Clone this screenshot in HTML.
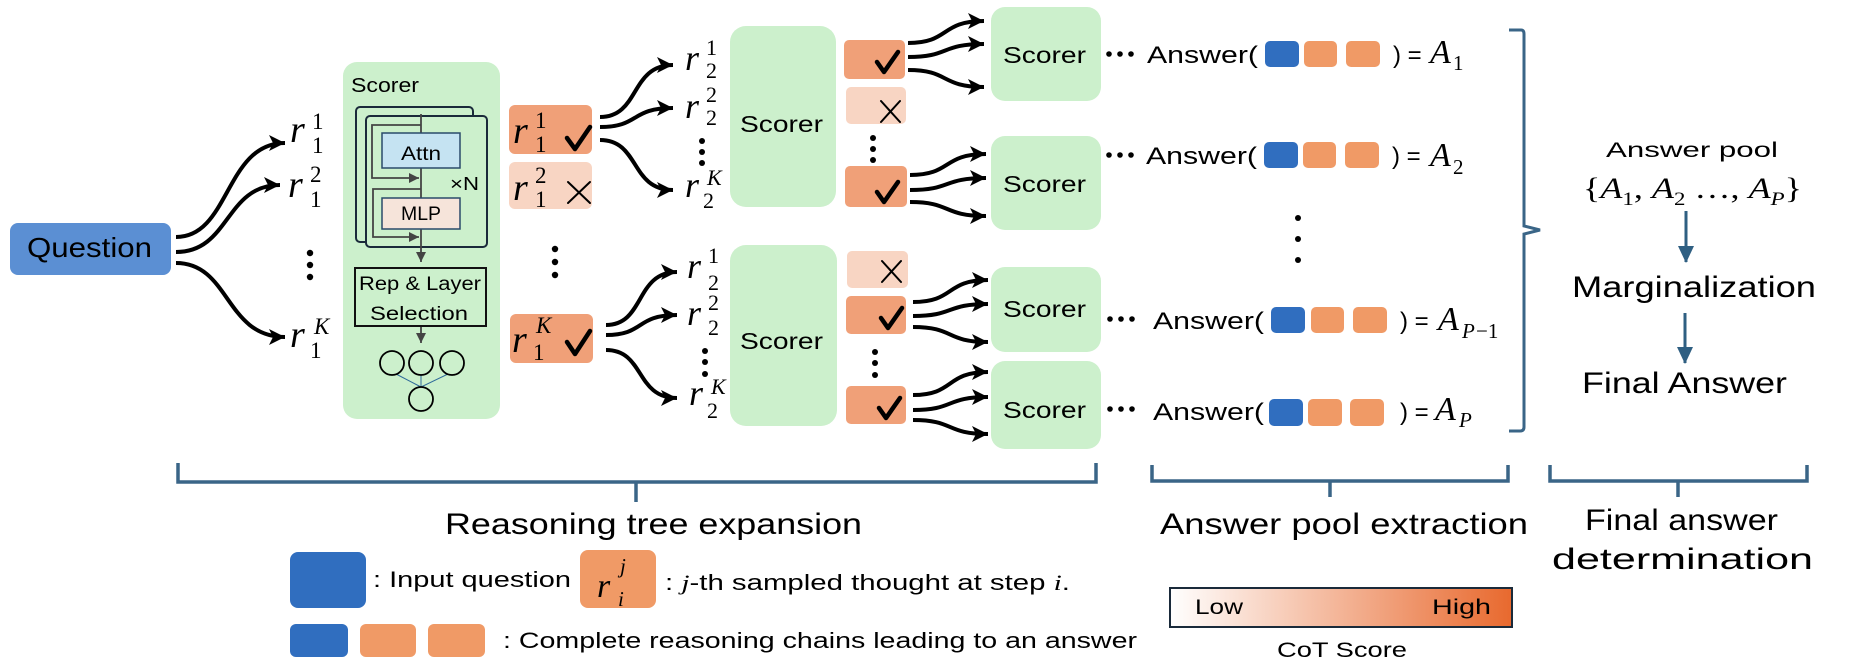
<!DOCTYPE html>
<html><head><meta charset="utf-8"><style>
html,body{margin:0;padding:0;background:#fff;}
svg{display:block;}
.s{font-family:"Liberation Sans",sans-serif;fill:#000;}
.m{font-family:"Liberation Serif",serif;font-style:italic;fill:#000;}
.d{font-family:"Liberation Serif",serif;fill:#000;}
</style></head><body>
<svg width="1858" height="670" viewBox="0 0 1858 670" xmlns="http://www.w3.org/2000/svg">
<defs>
<marker id="ah" markerUnits="userSpaceOnUse" markerWidth="18" markerHeight="18" refX="16" refY="8" orient="auto"><path d="M0,0 L16,8 L0,16 L4,8 z" fill="#000"/></marker>
<marker id="gh" markerUnits="userSpaceOnUse" markerWidth="12" markerHeight="12" refX="10" refY="5" orient="auto"><path d="M0,0 L10,5 L0,10 z" fill="#444"/></marker>
<marker id="bh" markerUnits="userSpaceOnUse" markerWidth="18" markerHeight="18" refX="8" refY="16" orient="0"><path d="M0,0 L16,0 L8,17 z" fill="#2f5f82"/></marker>
<linearGradient id="cg" x1="0" x2="1" y1="0" y2="0"><stop offset="0" stop-color="#ffffff"/><stop offset="1" stop-color="#e8692e"/></linearGradient>
</defs>

<!-- Question -->
<rect x="10" y="223" width="161" height="52" rx="8" fill="#5b8fd3"/>
<text class="s" x="27" y="257" font-size="28" textLength="125" lengthAdjust="spacingAndGlyphs">Question</text>

<g fill="none" stroke="#000" stroke-width="4" marker-end="url(#ah)">
<path d="M176 237 C230 237,225 143,285 143"/>
<path d="M176 252 C230 252,225 185,280 185"/>
<path d="M176 263 C230 263,225 337,285 337"/>
<path d="M600 117 C640 117,630 65,673 65"/>
<path d="M600 127 C640 127,630 108,673 108"/>
<path d="M600 140 C640 140,630 190,673 190"/>
<path d="M606 325 C645 325,635 272,677 272"/>
<path d="M606 335 C645 335,635 315,677 315"/>
<path d="M606 350 C645 350,635 398,677 398"/>
<path d="M908 43 C950 43,940 21,984 21"/>
<path d="M908 57 C950 57,940 44,984 44"/>
<path d="M908 70 C950 70,940 87,984 87"/>
<path d="M910 175 C952 175,942 154,986 154"/>
<path d="M910 190 C952 190,942 178,986 178"/>
<path d="M910 202 C952 202,942 216,986 216"/>
<path d="M913 302 C955 302,945 280,988 280"/>
<path d="M913 316 C955 316,945 304,988 304"/>
<path d="M913 327 C955 327,945 342,988 342"/>
<path d="M913 395 C955 395,945 372,988 372"/>
<path d="M913 410 C955 410,945 397,988 397"/>
<path d="M913 420 C955 420,945 434,988 434"/>
</g>

<!-- r1 labels -->
<g>
<text class="m" x="290" y="142" font-size="38">r</text><text class="d" x="312" y="129" font-size="23">1</text><text class="d" x="312" y="153" font-size="23">1</text>
<text class="m" x="288" y="197" font-size="38">r</text><text class="d" x="310" y="182" font-size="23">2</text><text class="d" x="310" y="207" font-size="23">1</text>
<text class="m" x="290" y="347" font-size="38">r</text><text class="m" x="314" y="334" font-size="23">K</text><text class="d" x="310" y="358" font-size="23">1</text>
</g>
<g fill="#000">
<circle cx="310" cy="253" r="3.2"/><circle cx="310" cy="265" r="3.2"/><circle cx="310" cy="277" r="3.2"/>
<circle cx="555" cy="249" r="3.2"/><circle cx="555" cy="262" r="3.2"/><circle cx="555" cy="275" r="3.2"/>
<circle cx="702" cy="141" r="3"/><circle cx="702" cy="152" r="3"/><circle cx="702" cy="163" r="3"/>
<circle cx="705" cy="351" r="3"/><circle cx="705" cy="362" r="3"/><circle cx="705" cy="374" r="3"/>
<circle cx="873" cy="138" r="3"/><circle cx="873" cy="149" r="3"/><circle cx="873" cy="160" r="3"/>
<circle cx="875" cy="352" r="3"/><circle cx="875" cy="363" r="3"/><circle cx="875" cy="375" r="3"/>
<circle cx="1298" cy="218" r="3"/><circle cx="1298" cy="239" r="3"/><circle cx="1298" cy="260" r="3"/>
</g>

<!-- Scorer panel -->
<rect x="343" y="62" width="157" height="357" rx="14" fill="#ccf0cc"/>
<text class="s" x="351" y="92" font-size="20" textLength="68" lengthAdjust="spacingAndGlyphs">Scorer</text>
<rect x="356" y="107" width="117" height="135" rx="4" fill="#ccf0cc" stroke="#1a2a3a" stroke-width="2"/>
<rect x="366" y="116" width="121" height="131" rx="4" fill="#ccf0cc" stroke="#1a2a3a" stroke-width="2"/>
<line x1="421" y1="114" x2="421" y2="262" stroke="#444" stroke-width="1.8" marker-end="url(#gh)"/>
<rect x="382" y="133" width="78" height="35" fill="#c5e3f2" stroke="#2a4a6a" stroke-width="1.5"/>
<text class="s" x="401" y="160" font-size="19" textLength="40" lengthAdjust="spacingAndGlyphs">Attn</text>
<rect x="382" y="198" width="78" height="31" fill="#f6e4da" stroke="#2a4a6a" stroke-width="1.5"/>
<text class="s" x="401" y="220" font-size="19" textLength="40" lengthAdjust="spacingAndGlyphs">MLP</text>
<path d="M421 125 H372 V178 H419" fill="none" stroke="#444" stroke-width="1.8" marker-end="url(#gh)"/>
<path d="M421 189 H373 V237 H419" fill="none" stroke="#444" stroke-width="1.8" marker-end="url(#gh)"/>
<text class="s" x="450" y="190" font-size="18" textLength="29" lengthAdjust="spacingAndGlyphs">×N</text>
<rect x="355" y="268" width="131" height="58" fill="none" stroke="#111" stroke-width="2"/>
<text class="s" x="359" y="290" font-size="19" textLength="122" lengthAdjust="spacingAndGlyphs">Rep &amp; Layer</text>
<text class="s" x="370" y="320" font-size="19" textLength="98" lengthAdjust="spacingAndGlyphs">Selection</text>
<line x1="421" y1="327" x2="421" y2="343" stroke="#444" stroke-width="1.8" marker-end="url(#gh)"/>
<g stroke="#2f6a9a" stroke-width="1"><line x1="396" y1="374" x2="421" y2="387"/><line x1="421" y1="375" x2="421" y2="387"/><line x1="448" y1="374" x2="421" y2="387"/></g>
<g fill="none" stroke="#000" stroke-width="1.8">
<ellipse cx="392" cy="363" rx="12" ry="12"/><ellipse cx="421" cy="363" rx="12" ry="12"/><ellipse cx="452" cy="363" rx="12" ry="12"/><ellipse cx="421" cy="399" rx="12" ry="12"/>
</g>

<!-- r1 boxes -->
<rect x="509" y="105" width="83" height="49" rx="6" fill="#f0a078"/>
<text class="m" x="513" y="143" font-size="38">r</text><text class="d" x="535" y="128" font-size="23">1</text><text class="d" x="535" y="152" font-size="23">1</text>
<rect x="509" y="162" width="83" height="47" rx="6" fill="#f8d5c3"/>
<text class="m" x="513" y="200" font-size="38">r</text><text class="d" x="535" y="183" font-size="23">2</text><text class="d" x="535" y="207" font-size="23">1</text>
<rect x="510" y="314" width="83" height="49" rx="6" fill="#f0a078"/>
<text class="m" x="512" y="352" font-size="38">r</text><text class="m" x="536" y="333" font-size="23">K</text><text class="d" x="533" y="360" font-size="23">1</text>
<g fill="none" stroke="#000" stroke-linecap="round" stroke-linejoin="round">
<path d="M567 138 L575 149 L590 127" stroke-width="4.5"/>
<path d="M567 342 L575 354 L590 331" stroke-width="4.5"/>
<path d="M568 182 L590 203 M590 182 L568 203" stroke-width="2"/>
</g>

<!-- r2 labels -->
<text class="m" x="685" y="70" font-size="36">r</text><text class="d" x="706" y="55" font-size="22">1</text><text class="d" x="706" y="78" font-size="22">2</text>
<text class="m" x="685" y="118" font-size="36">r</text><text class="d" x="706" y="102" font-size="22">2</text><text class="d" x="706" y="125" font-size="22">2</text>
<text class="m" x="685" y="197" font-size="36">r</text><text class="m" x="707" y="185" font-size="22">K</text><text class="d" x="703" y="208" font-size="22">2</text>
<text class="m" x="687" y="278" font-size="36">r</text><text class="d" x="708" y="263" font-size="22">1</text><text class="d" x="708" y="290" font-size="22">2</text>
<text class="m" x="687" y="325" font-size="36">r</text><text class="d" x="708" y="310" font-size="22">2</text><text class="d" x="708" y="335" font-size="22">2</text>
<text class="m" x="689" y="405" font-size="36">r</text><text class="m" x="711" y="394" font-size="22">K</text><text class="d" x="707" y="418" font-size="22">2</text>

<!-- big scorers -->
<rect x="730" y="26" width="106" height="181" rx="16" fill="#ccf0cc"/>
<text class="s" x="740" y="132" font-size="23" textLength="83" lengthAdjust="spacingAndGlyphs">Scorer</text>
<rect x="730" y="245" width="107" height="181" rx="16" fill="#ccf0cc"/>
<text class="s" x="740" y="349" font-size="23" textLength="83" lengthAdjust="spacingAndGlyphs">Scorer</text>

<!-- second-level boxes -->
<rect x="844" y="40" width="61" height="39" rx="5" fill="#f0a078"/>
<rect x="846" y="87" width="60" height="37" rx="5" fill="#f8d5c3"/>
<rect x="845" y="166" width="62" height="41" rx="5" fill="#f0a078"/>
<rect x="847" y="251" width="61" height="37" rx="5" fill="#f8d5c3"/>
<rect x="846" y="296" width="60" height="38" rx="5" fill="#f0a078"/>
<rect x="846" y="386" width="60" height="38" rx="5" fill="#f0a078"/>
<g fill="none" stroke="#000" stroke-linecap="round" stroke-linejoin="round">
<path d="M877 62 L884 72 L898 52" stroke-width="4.5"/>
<path d="M877 192 L884 202 L898 182" stroke-width="4.5"/>
<path d="M881 318 L888 328 L902 308" stroke-width="4.5"/>
<path d="M879 408 L886 418 L900 398" stroke-width="4.5"/>
<path d="M881 101 L900 122 M900 101 L881 122" stroke-width="2"/>
<path d="M882 261 L901 282 M901 261 L882 282" stroke-width="2"/>
</g>

<!-- small scorers -->
<rect x="991" y="7" width="110" height="94" rx="14" fill="#ccf0cc"/>
<text class="s" x="1003" y="63" font-size="23" textLength="83" lengthAdjust="spacingAndGlyphs">Scorer</text>
<rect x="991" y="136" width="110" height="94" rx="14" fill="#ccf0cc"/>
<text class="s" x="1003" y="192" font-size="23" textLength="83" lengthAdjust="spacingAndGlyphs">Scorer</text>
<rect x="991" y="267" width="110" height="85" rx="14" fill="#ccf0cc"/>
<text class="s" x="1003" y="317" font-size="23" textLength="83" lengthAdjust="spacingAndGlyphs">Scorer</text>
<rect x="991" y="361" width="110" height="88" rx="14" fill="#ccf0cc"/>
<text class="s" x="1003" y="418" font-size="23" textLength="83" lengthAdjust="spacingAndGlyphs">Scorer</text>

<!-- answers -->
<g fill="#000">
<circle cx="1109" cy="54" r="2.8"/><circle cx="1120" cy="54" r="2.8"/><circle cx="1131" cy="54" r="2.8"/>
<circle cx="1109" cy="155" r="2.8"/><circle cx="1120" cy="155" r="2.8"/><circle cx="1131" cy="155" r="2.8"/>
<circle cx="1110" cy="319" r="2.8"/><circle cx="1121" cy="319" r="2.8"/><circle cx="1132" cy="319" r="2.8"/>
<circle cx="1110" cy="409" r="2.8"/><circle cx="1121" cy="409" r="2.8"/><circle cx="1132" cy="409" r="2.8"/>
</g>
<g>
<text class="s" x="1147" y="63" font-size="24" textLength="111" lengthAdjust="spacingAndGlyphs">Answer(</text>
<rect x="1265" y="41" width="34" height="26" rx="5" fill="#306ebf"/><rect x="1304" y="41" width="33" height="26" rx="5" fill="#f09a66"/><rect x="1346" y="41" width="34" height="26" rx="5" fill="#f09a66"/>
<text class="s" x="1393" y="63" font-size="24">) =</text>
<text class="m" x="1430" y="63" font-size="34">A</text><text class="d" x="1453" y="70" font-size="21">1</text>

<text class="s" x="1146" y="164" font-size="24" textLength="111" lengthAdjust="spacingAndGlyphs">Answer(</text>
<rect x="1264" y="142" width="34" height="26" rx="5" fill="#306ebf"/><rect x="1303" y="142" width="33" height="26" rx="5" fill="#f09a66"/><rect x="1345" y="142" width="34" height="26" rx="5" fill="#f09a66"/>
<text class="s" x="1392" y="164" font-size="24">) =</text>
<text class="m" x="1430" y="166" font-size="34">A</text><text class="d" x="1453" y="174" font-size="21">2</text>

<text class="s" x="1153" y="329" font-size="24" textLength="111" lengthAdjust="spacingAndGlyphs">Answer(</text>
<rect x="1271" y="307" width="34" height="26" rx="5" fill="#306ebf"/><rect x="1311" y="307" width="33" height="26" rx="5" fill="#f09a66"/><rect x="1353" y="307" width="34" height="26" rx="5" fill="#f09a66"/>
<text class="s" x="1400" y="329" font-size="24">) =</text>
<text class="m" x="1438" y="330" font-size="34">A</text><text class="m" x="1462" y="338" font-size="21">P</text><text class="d" x="1476" y="338" font-size="21">−1</text>

<text class="s" x="1153" y="420" font-size="24" textLength="111" lengthAdjust="spacingAndGlyphs">Answer(</text>
<rect x="1269" y="399" width="34" height="27" rx="5" fill="#306ebf"/><rect x="1308" y="399" width="34" height="27" rx="5" fill="#f09a66"/><rect x="1350" y="399" width="34" height="27" rx="5" fill="#f09a66"/>
<text class="s" x="1400" y="420" font-size="24">) =</text>
<text class="m" x="1435" y="420" font-size="34">A</text><text class="m" x="1459" y="427" font-size="21">P</text>
</g>

<!-- right bracket -->
<path d="M1509 30 H1521 Q1524 30 1524 34 V226 L1540 230 L1524 234 V427 Q1524 431 1520 431 H1509" fill="none" stroke="#3a6587" stroke-width="3"/>

<!-- final section -->
<text class="s" x="1606" y="157" font-size="21" textLength="172" lengthAdjust="spacingAndGlyphs">Answer pool</text>
<text x="1583" y="198" font-size="30" textLength="219" lengthAdjust="spacingAndGlyphs"><tspan class="d">{</tspan><tspan class="m">A</tspan><tspan class="d" font-size="19" dy="7">1</tspan><tspan class="d" dy="-7">, </tspan><tspan class="m">A</tspan><tspan class="d" font-size="19" dy="7">2</tspan><tspan class="d" dy="-7"> …, </tspan><tspan class="m">A</tspan><tspan class="m" font-size="19" dy="7">P</tspan><tspan class="d" dy="-7">}</tspan></text>
<line x1="1686" y1="211" x2="1686" y2="262" stroke="#2f5f82" stroke-width="3" marker-end="url(#bh)"/>
<text class="s" x="1572" y="297" font-size="30" textLength="244" lengthAdjust="spacingAndGlyphs">Marginalization</text>
<line x1="1685" y1="313" x2="1685" y2="363" stroke="#2f5f82" stroke-width="3" marker-end="url(#bh)"/>
<text class="s" x="1582" y="393" font-size="30" textLength="205" lengthAdjust="spacingAndGlyphs">Final Answer</text>

<!-- bottom braces -->
<g fill="none" stroke="#3a6587" stroke-width="3.5">
<path d="M178 463 V482 H1096 V463"/><path d="M636 482 V502"/>
<path d="M1152 465 V481 H1508 V465"/><path d="M1330 481 V497"/>
<path d="M1550 465 V481 H1807 V465"/><path d="M1678 481 V497"/>
</g>
<text class="s" x="445" y="534" font-size="30" textLength="417" lengthAdjust="spacingAndGlyphs">Reasoning tree expansion</text>
<text class="s" x="1160" y="534" font-size="30" textLength="368" lengthAdjust="spacingAndGlyphs">Answer pool extraction</text>
<text class="s" x="1585" y="530" font-size="30" textLength="193" lengthAdjust="spacingAndGlyphs">Final answer</text>
<text class="s" x="1552" y="569" font-size="30" textLength="261" lengthAdjust="spacingAndGlyphs">determination</text>

<!-- legend -->
<rect x="290" y="552" width="76" height="56" rx="8" fill="#306ebf"/>
<text class="s" x="373" y="587" font-size="22" textLength="198" lengthAdjust="spacingAndGlyphs">: Input question</text>
<rect x="580" y="550" width="76" height="58" rx="8" fill="#f09a66"/>
<text class="m" x="597" y="597" font-size="34">r</text><text class="m" x="620" y="573" font-size="21">j</text><text class="m" x="618" y="606" font-size="21">i</text>
<text x="665" y="590" font-size="22" textLength="405" lengthAdjust="spacingAndGlyphs"><tspan class="s">:  </tspan><tspan class="m">j</tspan><tspan class="s">-th sampled thought at step </tspan><tspan class="m">i</tspan><tspan class="s">.</tspan></text>
<rect x="290" y="624" width="58" height="33" rx="6" fill="#306ebf"/>
<rect x="360" y="624" width="56" height="33" rx="6" fill="#f09a66"/>
<rect x="428" y="624" width="57" height="33" rx="6" fill="#f09a66"/>
<text class="s" x="503" y="648" font-size="22" textLength="634" lengthAdjust="spacingAndGlyphs">: Complete reasoning chains leading to an answer</text>

<rect x="1170" y="588" width="342" height="39" fill="url(#cg)" stroke="#1a2a3a" stroke-width="2"/>
<text class="s" x="1195" y="614" font-size="21" textLength="48" lengthAdjust="spacingAndGlyphs">Low</text>
<text class="s" x="1432" y="614" font-size="21" textLength="59" lengthAdjust="spacingAndGlyphs">High</text>
<text class="s" x="1277" y="657" font-size="21" textLength="130" lengthAdjust="spacingAndGlyphs">CoT Score</text>
</svg>
</body></html>
